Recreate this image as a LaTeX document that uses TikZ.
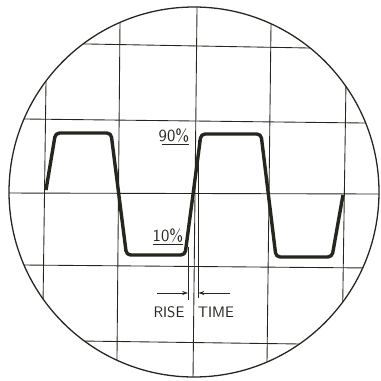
\documentclass[tikz,border=0pt]{standalone}
\usetikzlibrary{arrows.meta}
\definecolor{InkBlack}{HTML}{26261F}

\begin{document}
\begin{tikzpicture}[
  x=0.03cm, y=-0.03cm,
  graticule/.style={draw=InkBlack, line width=0.75pt},
  bezel/.style={draw=InkBlack, line width=1.1pt},
  trace/.style={draw=InkBlack, line width=2.9pt, rounded corners=3.5pt, line join=round},
  marker/.style={draw=InkBlack, line width=0.75pt},
  arr/.style={-{Stealth[length=5pt,width=3.5pt]}, draw=InkBlack, line width=0.75pt},
  lbl/.style={font=\fontsize{13}{15}\sffamily, text=InkBlack, inner sep=1pt},
  pct/.style={lbl, font=\fontsize{14.5}{16}\sffamily},
]
\useasboundingbox (0,0) rectangle (381,380);

% screen and graticule
\coordinate (c) at (194,192);
\begin{scope}
  \clip (c) circle [radius=185];
  \foreach \ya/\yb in {42.4/49.3, 118.7/123.2, 193/194, 264.8/268.1, 339.9/345.1}
    \draw[graticule] (0,\ya) -- (381,\yb);
  \foreach \xa/\xb in {47.1/42.0, 120.2/116.8, 197.1/193, 271.3/266.8, 347.2/341.6}
    \draw[graticule] (\xa,0) -- (\xb,380);
\end{scope}
\draw[bezel] (c) circle [radius=185];

% square wave
\draw[trace] (46,190) -- (55.5,133) -- (111,133) -- (126.5,255) -- (185,255)
  -- (201,134) -- (261,134) -- (276,257) -- (332,257) -- (343,195);

% 10% and 90% points
\coordinate (lo) at (188,247);
\coordinate (hi) at (198.5,140);
\coordinate (loEnd) at (188,300);
\coordinate (hiEnd) at (198.5,298);
\draw[marker] (lo) -- (loEnd);
\draw[marker] (hi) -- (hiEnd);

\node[pct] (n90) at (174,136) {90\%};
\node[pct] (n10) at (168,236) {10\%};
\draw[marker] ([xshift=4pt]n90.south west) -- ([xshift=-1pt]n90.south east);
\draw[marker] ([xshift=1pt]n10.south west) -- ([xshift=-1pt]n10.south east);

% rise time
\coordinate (arrL) at (157,293);
\coordinate (arrR) at (230,293);
\draw[arr] (arrL) -- (arrL -| lo);
\draw[arr] (arrR) -- (arrR -| hi);
\node[lbl] (rise) at (169,312) {RISE};
\node[lbl] (time) at (216,312) {TIME};

\end{tikzpicture}
\end{document}
